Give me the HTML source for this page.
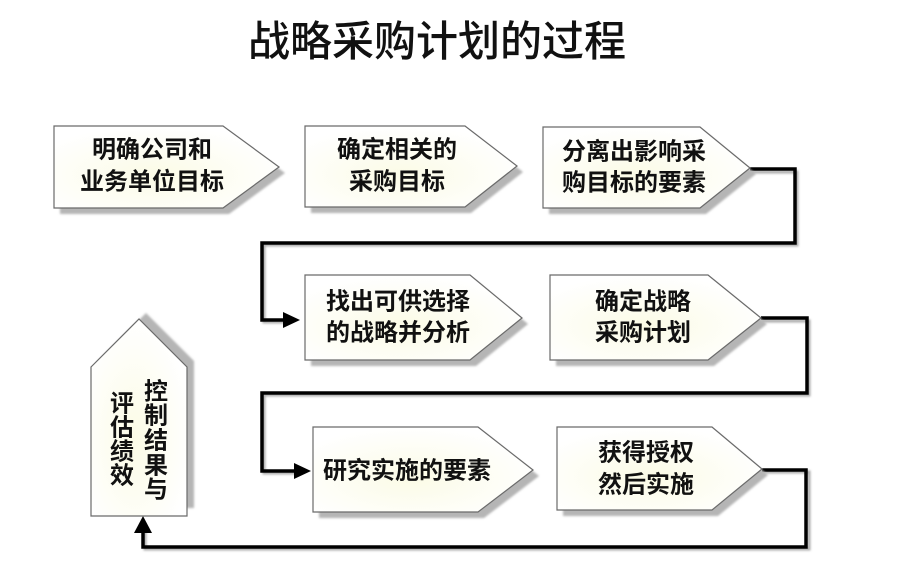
<!DOCTYPE html>
<html>
<head>
<meta charset="utf-8">
<style>
html,body{margin:0;padding:0;background:#fff;}
body{width:923px;height:580px;overflow:hidden;}
svg{display:block;}
.t{font-family:"Liberation Sans","Noto Sans CJK SC","WenQuanYi Zen Hei",sans-serif;font-weight:bold;font-size:24px;fill:#111;}
.title{font-family:"Liberation Sans","Noto Sans CJK SC","WenQuanYi Zen Hei",sans-serif;font-size:42px;fill:#111;font-weight:500;}
</style>
</head>
<body>
<svg width="923" height="580" viewBox="0 0 923 580" xmlns="http://www.w3.org/2000/svg">
<defs>
  <radialGradient id="g" cx="0.45" cy="0.6" r="0.6">
    <stop offset="0" stop-color="#fbfbe6"/>
    <stop offset="1" stop-color="#ffffff"/>
  </radialGradient>
  <filter id="b" x="-10%" y="-10%" width="120%" height="120%">
    <feGaussianBlur stdDeviation="1"/>
  </filter>
</defs>

<text class="title" x="248" y="56">战略采购计划的过程</text>

<!-- connector shadows -->
<g fill="none" stroke="#aaa" stroke-width="3" filter="url(#b)">
  <polyline points="750,172 797,172 797,245 264,245 264,322 288,322"/>
  <polyline points="761,321 809,321 809,395 264,395 264,473 298,473"/>
  <polyline points="762,472 809,472 809,549 145,549 145,530"/>
</g>
<!-- connectors -->
<g fill="none" stroke="#000" stroke-width="3.5" stroke-linejoin="miter">
  <polyline points="750,169 795,169 795,243 262,243 262,320 286,320"/>
  <polyline points="761,318 807,318 807,393 262,393 262,471 296,471"/>
  <polyline points="762,470 806,470 806,547 143,547 143,530"/>
</g>
<g fill="#000">
  <polygon points="300,320 283,312 283,328"/>
  <polygon points="311,471 294,463 294,479"/>
  <polygon points="143,516 134,533 152,533"/>
</g>

<!-- box shadows -->
<g fill="#b5b5b5" filter="url(#b)">
  <polygon points="60,132 229,132 285,173 229,214 60,214"/>
  <polygon points="311,132 471,132 523,172 471,213 311,213"/>
  <polygon points="549,133 706,133 756,174 706,214 549,214"/>
  <polygon points="311,281 476,281 528,324 476,366 311,366"/>
  <polygon points="556,281 714,281 767,324 714,366 556,366"/>
  <polygon points="319,433 484,433 539,476 484,518 319,518"/>
  <polygon points="563,433 718,433 768,475 718,516 563,516"/>
  <polygon points="98,361 146,313 194,361 194,508 98,508"/>
</g>

<!-- boxes -->
<g fill="url(#g)" stroke="#6a6a6a" stroke-width="1.2">
  <polygon points="54,126 223,126 279,167 223,208 54,208"/>
  <polygon points="305,126 465,126 517,166 465,207 305,207"/>
  <polygon points="543,127 700,127 750,168 700,208 543,208"/>
  <polygon points="305,275 470,275 522,318 470,360 305,360"/>
  <polygon points="550,275 708,275 761,318 708,360 550,360"/>
  <polygon points="313,427 478,427 533,470 478,512 313,512"/>
  <polygon points="557,427 712,427 762,469 712,510 557,510"/>
  <polygon points="91,367 139,319 187,367 187,516 91,516"/>
</g>

<!-- texts -->
<g class="t" dominant-baseline="central">
  <text x="92" y="150">明确公司和</text>
  <text x="80" y="182">业务单位目标</text>

  <text x="337" y="150">确定相关的</text>
  <text x="349" y="182">采购目标</text>

  <text x="562" y="152">分离出影响采</text>
  <text x="562" y="183">购目标的要素</text>

  <text x="326" y="302">找出可供选择</text>
  <text x="326" y="333">的战略并分析</text>

  <text x="595" y="302">确定战略</text>
  <text x="595" y="333">采购计划</text>

  <text x="323" y="471">研究实施的要素</text>

  <text x="598" y="453">获得授权</text>
  <text x="598" y="485">然后实施</text>
</g>

<!-- vertical text -->
<g class="t" text-anchor="middle" dominant-baseline="central">
  <text x="156" y="392">控</text>
  <text x="156" y="416">制</text>
  <text x="156" y="441">结</text>
  <text x="156" y="466">果</text>
  <text x="156" y="490">与</text>

  <text x="122" y="404">评</text>
  <text x="122" y="428">估</text>
  <text x="122" y="452">绩</text>
  <text x="122" y="476">效</text>
</g>
</svg>
</body>
</html>
